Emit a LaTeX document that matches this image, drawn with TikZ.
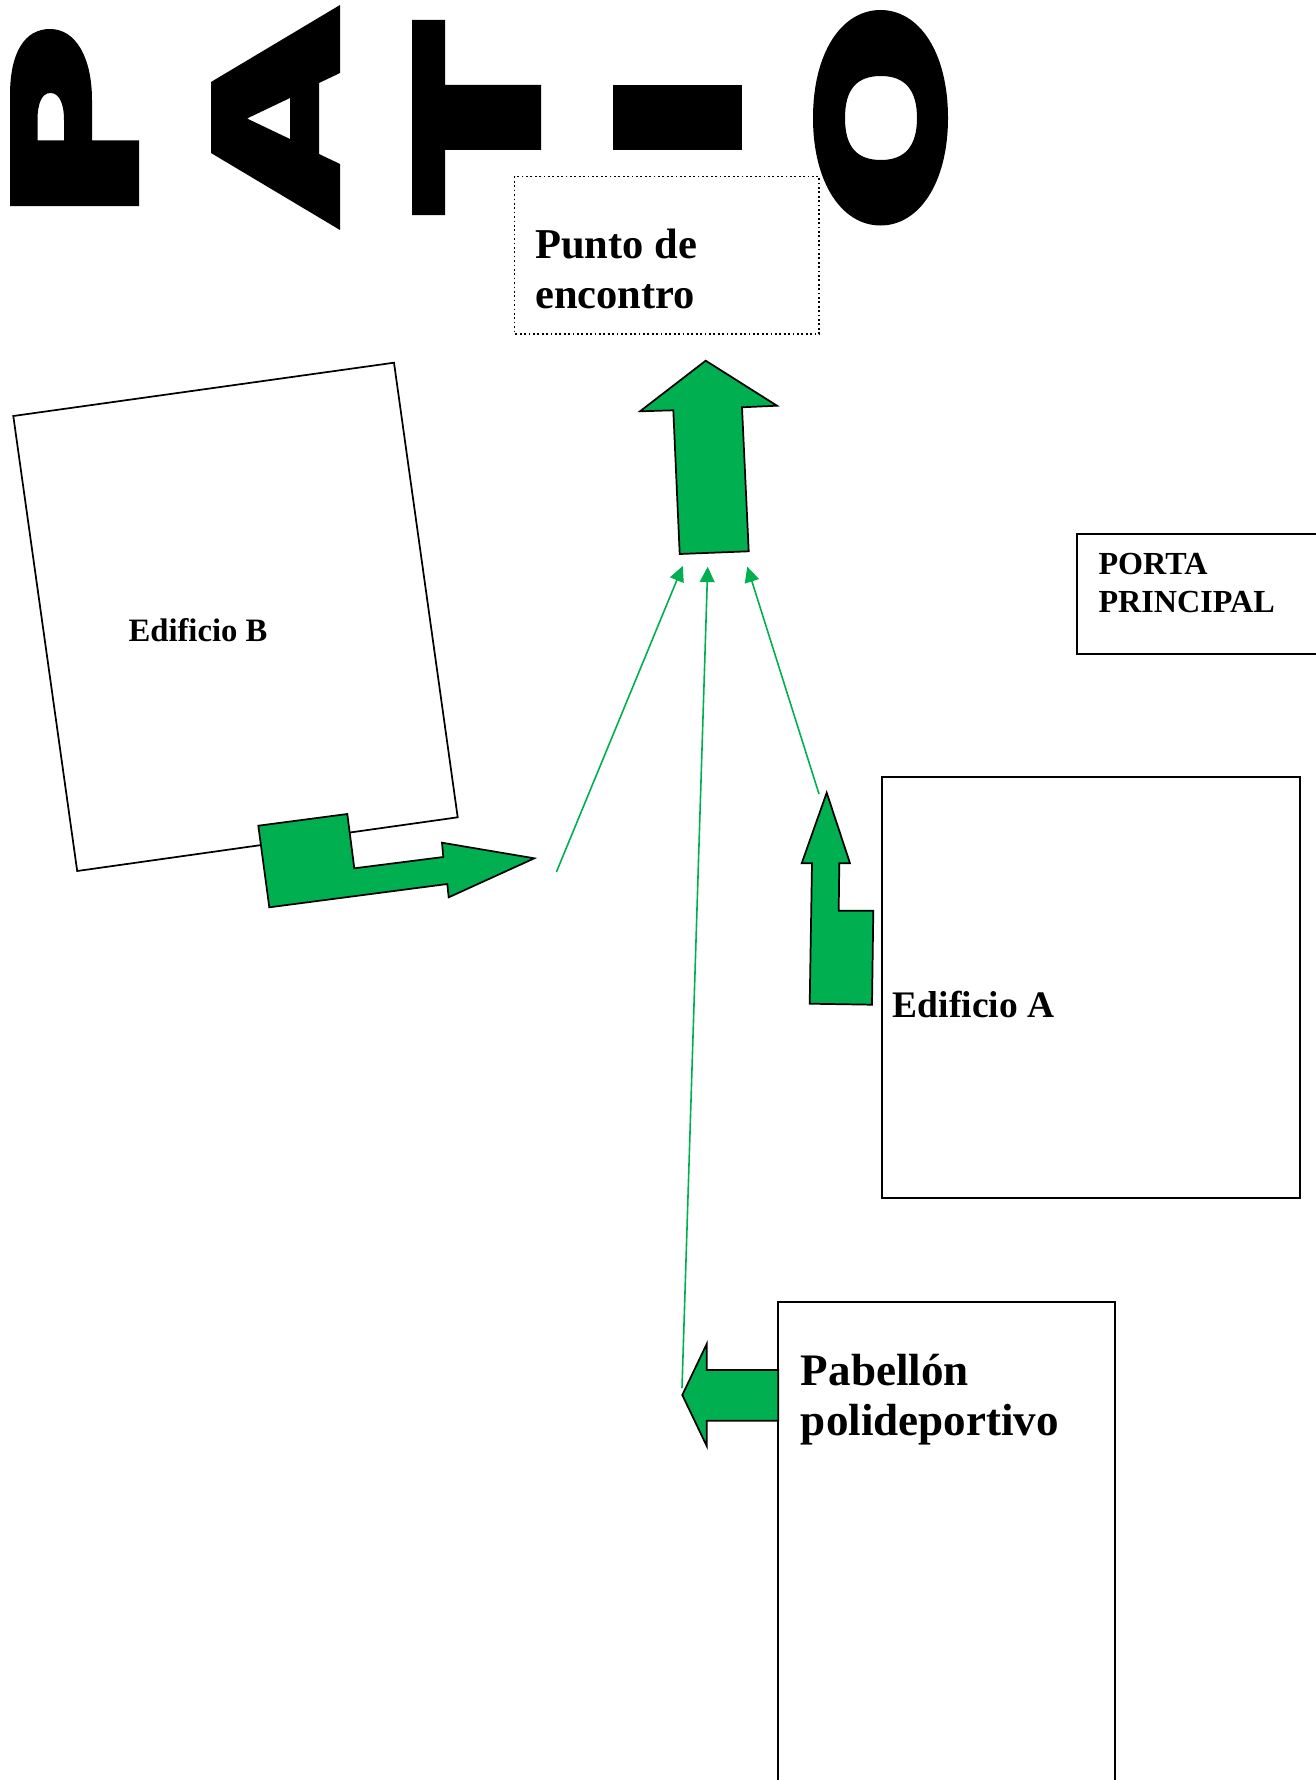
\documentclass[tikz,border=0pt]{standalone}
\usepackage{fontspec}
\setmainfont{Liberation Serif}
\usetikzlibrary{arrows.meta}
\definecolor{grn}{HTML}{00B050}
\tikzset{
  px/.style={x=0.75pt,y=-0.75pt},
  boxline/.style={draw=black,line width=1.3pt,fill=white},
  bigarrow/.style={draw=black,line width=1.3pt,fill=grn,line join=miter},
  thin arrow/.style={draw=grn,line width=1.2pt,-{Triangle[length=11.5pt,width=11pt]}},
  glyph/.style={fill=black,even odd rule},
  lbl/.style={anchor=base west,inner sep=0pt,font=\bfseries,align=left},
}
\begin{document}
\begin{tikzpicture}[px]
\useasboundingbox (0,0) rectangle (1316,1780);
% title glyphs
\fill[glyph] (10,206) -- (139,206) -- (139,140.5) -- (92,140.5) -- (92,100)
  .. controls (92,58) and (76,29) .. (50,29) .. controls (25,29) and (10,52) .. (10,95) -- cycle
  (37.5,140.5) -- (64,140.5) -- (64,120) .. controls (64,103) and (59,93) .. (50.5,93)
  .. controls (42,93) and (37.5,103) .. (37.5,120) -- cycle;
\fill[glyph] (211,82) -- (340,5) -- (340,73) -- (319,83) -- (319,154) -- (340,164) -- (340,230) -- (211,153) -- cycle
  (247,118.5) -- (290,98) -- (290,139) -- cycle;
\fill[glyph] (412,20) -- (445,20) -- (445,85) -- (541,85) -- (541,150) -- (445,150) -- (445,215) -- (412,215) -- cycle;
\fill[glyph] (613,85) rectangle (742,150);
\fill[glyph] (813,118) .. controls (813,52) and (842,10) .. (880.5,10) .. controls (919,10) and (948,52) .. (948,118)
  .. controls (948,183) and (919,225.5) .. (880.5,225.5) .. controls (842,225.5) and (813,183) .. (813,118) -- cycle
  (845,118) .. controls (845,90) and (856,76) .. (881,76) .. controls (905,76) and (917,90) .. (917,118)
  .. controls (917,146) and (905,160) .. (881,160) .. controls (856,160) and (845,146) .. (845,118) -- cycle;
% Punto de encontro
\draw[draw=black,fill=white,line width=1.3pt,dotted] (514.5,176.5) rectangle (819,334);
\node[lbl,font=\bfseries\fontsize{31.9pt}{37.5pt}\selectfont] (punto) at (535,308) {Punto de\\encontro};
% Edificio B
\draw[boxline] (13.3,416) coordinate (bnw) -- (394,362.7) coordinate (bne) -- (457.7,817.3) coordinate (bse) -- (77.2,871) coordinate (bsw) -- cycle;
\node[lbl,font=\bfseries\fontsize{24.5pt}{28pt}\selectfont] (edb) at (128.3,641.7) {Edificio B};
% Edificio A
\draw[boxline] (881.7,777) rectangle (1300,1197.7);
\node[lbl,font=\bfseries\fontsize{28.1pt}{32pt}\selectfont] (eda) at (892.7,1017) {Edificio A};
% Porta principal
\draw[boxline] (1330,534) -- (1077.3,534) -- (1077.3,654) -- (1330,654);
\node[lbl,font=\bfseries\fontsize{24.1pt}{28.5pt}\selectfont] (porta) at (1098.3,612.3) {PORTA\\PRINCIPAL};
% Pabellon
\draw[boxline] (778.3,1800) -- (778.3,1302.3) -- (1114.7,1302.3) -- (1114.7,1800);
\node[lbl,font=\bfseries\fontsize{33.8pt}{37.5pt}\selectfont] (pab) at (800.7,1435) {Pabellón\\polideportivo};
% block arrows
\draw[bigarrow] (705.7,360.7) -- (777,405.7) -- (742,407.3) -- (748.7,551.3) -- (679.7,554) -- (673.3,410.3) -- (640,411.3) -- cycle;
\draw[bigarrow] (258.3,825.7) -- (347.3,814) -- (354.3,868.3) -- (443.3,857) -- (442,842.7) -- (534.3,858.3) -- (448.7,897.3) -- (447.3,884) -- (269.3,907.3) -- cycle;
\draw[bigarrow] (826.7,792.7) -- (850,863.3) -- (839.3,863.3) -- (838.7,910.7) -- (873.3,910.7) -- (872,1004.7) -- (809.7,1003.7) -- (812,863.3) -- (801.7,863.3) -- cycle;
\draw[bigarrow] (682.3,1395) -- (706.7,1344) -- (706.7,1370) -- (778.3,1370) -- (778.3,1420.7) -- (706.7,1420.7) -- (706.7,1446) -- cycle;
% thin arrows
\coordinate (t1a) at (556.4,872); \coordinate (t1b) at (682.7,566);
\coordinate (t2a) at (682,1388); \coordinate (t2b) at (707.7,566.7);
\coordinate (t3a) at (819,794); \coordinate (t3b) at (747.3,566.7);
\draw[thin arrow] (t1a) -- (t1b);
\draw[thin arrow] (t2a) -- (t2b);
\draw[thin arrow] (t3a) -- (t3b);
\end{tikzpicture}
\end{document}
